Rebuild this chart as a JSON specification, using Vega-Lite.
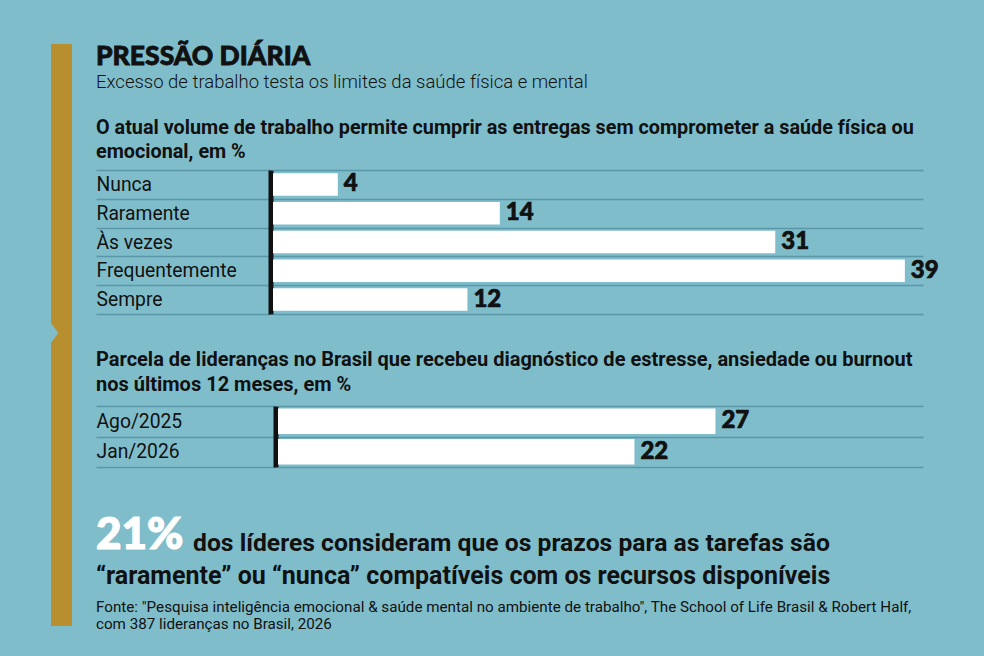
{
  "$schema": "https://vega.github.io/schema/vega-lite/v6.json",
  "background": "#80BDCB",
  "padding": {"left": 51, "top": 43, "right": 62, "bottom": 28},
  "config": {
    "view": {"stroke": null},
    "font": "Roboto",
    "text": {"color": "#111111"}
  },
  "spacing": 23,
  "hconcat": [
    {
      "width": 21,
      "height": 582,
      "view": {"fill": "#B88F2F", "stroke": null},
      "data": {"values": [{"marca": "entalhe"}]},
      "mark": {
        "type": "point",
        "filled": true,
        "opacity": 1,
        "color": "#80BDCB",
        "shape": "M0,-1L0.75,0L0,1Z",
        "size": 380
      },
      "encoding": {"x": {"value": 0}, "y": {"value": 289}}
    },
    {
      "spacing": 0,
      "vconcat": [
        {
          "width": 650,
          "height": 73.2,
          "data": {"values": [{}]},
          "layer": [
            {
              "mark": {"type": "text", "align": "left", "baseline": "alphabetic", "x": -177, "y": 20.5,
                       "font": "'Lato Black', Lato", "fontWeight": 900, "fontSize": 26.5, "color": "#111111",
                       "stroke": "#111111", "strokeWidth": 0.8},
              "encoding": {"text": {"value": "PRESSÃO DIÁRIA"}}
            },
            {
              "mark": {"type": "text", "align": "left", "baseline": "alphabetic", "x": -177, "y": 44,
                       "font": "Roboto", "fontWeight": 300, "fontSize": 18.5, "color": "#111111"},
              "encoding": {"text": {"value": "Excesso de trabalho testa os limites da saúde física e mental"}}
            }
          ]
        },
        {
          "width": 650,
          "height": 144,
          "data": {"values": [
            {"resposta": "Nunca", "pct": 4},
            {"resposta": "Raramente", "pct": 14},
            {"resposta": "Às vezes", "pct": 31},
            {"resposta": "Frequentemente", "pct": 39},
            {"resposta": "Sempre", "pct": 12}
          ]},
          "layer": [
            {
              "mark": {"type": "bar", "color": "#FFFFFF", "height": {"band": 0.78}},
              "encoding": {
                "y": {
                  "field": "resposta", "type": "nominal", "sort": null,
                  "scale": {"paddingInner": 0, "paddingOuter": 0},
                  "axis": {
                    "title": null, "offset": 2.5,
                    "domainColor": "#111111", "domainWidth": 5,
                    "tickBand": "extent", "tickSize": 174.5, "tickColor": "#5A97A8", "tickWidth": 1.5,
                    "grid": true, "gridColor": "#5A97A8", "gridWidth": 1.5,
                    "labelAlign": "left", "labelBaseline": "middle", "labelPadding": 0,
                    "labelFont": "Roboto", "labelFontSize": 19.3, "labelColor": "#111111"
                  }
                },
                "x": {
                  "field": "pct", "type": "quantitative",
                  "scale": {"domain": [0, 40.12], "nice": false},
                  "axis": null
                }
              }
            },
            {
              "mark": {"type": "text", "align": "left", "baseline": "middle", "dx": 6,
                       "font": "'Lato Black', Lato", "fontWeight": 900, "fontSize": 24, "color": "#111111",
                       "stroke": "#111111", "strokeWidth": 0.7},
              "encoding": {
                "y": {"field": "resposta", "type": "nominal", "sort": null},
                "x": {"field": "pct", "type": "quantitative"},
                "text": {"field": "pct", "type": "quantitative"}
              }
            },
            {
              "data": {"values": [{}]},
              "mark": {"type": "text", "align": "left", "baseline": "alphabetic", "x": -177, "y": -36,
                       "font": "Roboto", "fontWeight": "bold", "fontSize": 19.8, "color": "#111111"},
              "encoding": {"text": {"value": "O atual volume de trabalho permite cumprir as entregas sem comprometer a saúde física ou"}}
            },
            {
              "data": {"values": [{}]},
              "mark": {"type": "text", "align": "left", "baseline": "alphabetic", "x": -177, "y": -12,
                       "font": "Roboto", "fontWeight": "bold", "fontSize": 19.8, "color": "#111111"},
              "encoding": {"text": {"value": "emocional, em %"}}
            }
          ]
        },
        {
          "width": 650,
          "height": 34.25,
          "data": {"values": [{}]},
          "mark": {"type": "text"},
          "encoding": {"text": {"value": ""}}
        },
        {
          "width": 650,
          "height": 61,
          "data": {"values": [
            {"periodo": "Ago/2025", "pct": 27},
            {"periodo": "Jan/2026", "pct": 22}
          ]},
          "layer": [
            {
              "mark": {"type": "bar", "color": "#FFFFFF", "height": {"band": 0.84}},
              "encoding": {
                "y": {
                  "field": "periodo", "type": "nominal", "sort": null,
                  "scale": {"paddingInner": 0, "paddingOuter": 0},
                  "axis": {
                    "title": null, "offset": -2.5,
                    "domainColor": "#111111", "domainWidth": 5,
                    "tickBand": "extent", "tickSize": 179.5, "tickColor": "#5A97A8", "tickWidth": 1.5,
                    "grid": true, "gridColor": "#5A97A8", "gridWidth": 1.5,
                    "labelAlign": "left", "labelBaseline": "middle", "labelPadding": 0,
                    "labelFont": "Roboto", "labelFontSize": 19.3, "labelColor": "#111111"
                  }
                },
                "x": {
                  "field": "pct", "type": "quantitative",
                  "scale": {"domain": [0, 39.81], "nice": false, "range": [5, 650]},
                  "axis": null
                }
              }
            },
            {
              "mark": {"type": "text", "align": "left", "baseline": "middle", "dx": 6,
                       "font": "'Lato Black', Lato", "fontWeight": 900, "fontSize": 24, "color": "#111111",
                       "stroke": "#111111", "strokeWidth": 0.7},
              "encoding": {
                "y": {"field": "periodo", "type": "nominal", "sort": null},
                "x": {"field": "pct", "type": "quantitative"},
                "text": {"field": "pct", "type": "quantitative"}
              }
            },
            {
              "data": {"values": [{}]},
              "mark": {"type": "text", "align": "left", "baseline": "alphabetic", "x": -177, "y": -40,
                       "font": "Roboto", "fontWeight": "bold", "fontSize": 20, "color": "#111111"},
              "encoding": {"text": {"value": "Parcela de lideranças no Brasil que recebeu diagnóstico de estresse, ansiedade ou burnout"}}
            },
            {
              "data": {"values": [{}]},
              "mark": {"type": "text", "align": "left", "baseline": "alphabetic", "x": -177, "y": -15.5,
                       "font": "Roboto", "fontWeight": "bold", "fontSize": 20, "color": "#111111"},
              "encoding": {"text": {"value": "nos últimos 12 meses, em %"}}
            }
          ]
        },
        {
          "width": 650,
          "height": 166,
          "data": {"values": [{}]},
          "layer": [
            {
              "mark": {"type": "text", "align": "left", "baseline": "alphabetic", "x": -177, "y": 80.75,
                       "font": "'Lato Black', Lato", "fontWeight": 900, "fontSize": 44, "color": "#FFFFFF",
                       "stroke": "#FFFFFF", "strokeWidth": 1.2},
              "encoding": {"text": {"value": "21%"}}
            },
            {
              "mark": {"type": "text", "align": "left", "baseline": "alphabetic", "x": -80, "y": 82.5,
                       "font": "Roboto", "fontWeight": "bold", "fontSize": 24.7, "color": "#111111"},
              "encoding": {"text": {"value": "dos líderes consideram que os prazos para as tarefas são"}}
            },
            {
              "mark": {"type": "text", "align": "left", "baseline": "alphabetic", "x": -177, "y": 115.5,
                       "font": "Roboto", "fontWeight": "bold", "fontSize": 25, "color": "#111111"},
              "encoding": {"text": {"value": "“raramente” ou “nunca” compatíveis com os recursos disponíveis"}}
            },
            {
              "mark": {"type": "text", "align": "left", "baseline": "alphabetic", "x": -177, "y": 143.75,
                       "font": "Roboto", "fontSize": 15.2, "color": "#111111"},
              "encoding": {"text": {"value": "Fonte: \"Pesquisa inteligência emocional & saúde mental no ambiente de trabalho\", The School of Life Brasil & Robert Half,"}}
            },
            {
              "mark": {"type": "text", "align": "left", "baseline": "alphabetic", "x": -177, "y": 161.25,
                       "font": "Roboto", "fontWeight": 400, "fontSize": 15.2, "color": "#111111"},
              "encoding": {"text": {"value": "com 387 lideranças no Brasil, 2026"}}
            }
          ]
        }
      ]
    }
  ]
}
